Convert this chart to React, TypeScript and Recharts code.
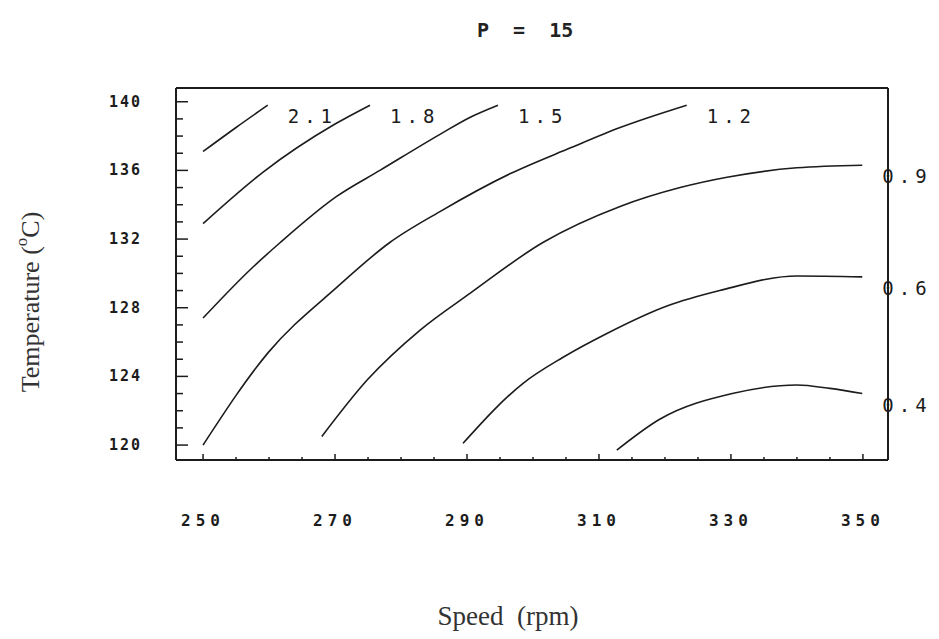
import { LineChart, Line, XAxis, YAxis, Label, LabelList } from 'recharts';

type Pt = { s: number; t: number };

// contour lines, speed (rpm) vs temperature (C)
const c21: Pt[] = [
  { s: 250, t: 137.1 },
  { s: 255, t: 138.5 },
  { s: 259.8, t: 139.8 },
];
const c18: Pt[] = [
  { s: 250, t: 132.9 },
  { s: 259.1, t: 135.9 },
  { s: 270, t: 138.7 },
  { s: 275.3, t: 139.8 },
];
const c15: Pt[] = [
  { s: 250, t: 127.4 },
  { s: 257.1, t: 130.2 },
  { s: 261.7, t: 131.8 },
  { s: 270.3, t: 134.5 },
  { s: 276.8, t: 136.0 },
  { s: 285.9, t: 138.1 },
  { s: 290.5, t: 139.1 },
  { s: 294.7, t: 139.8 },
];
const c12: Pt[] = [
  { s: 250, t: 120.0 },
  { s: 259.9, t: 125.4 },
  { s: 270.3, t: 129.2 },
  { s: 278.3, t: 131.8 },
  { s: 285.9, t: 133.6 },
  { s: 296.5, t: 135.8 },
  { s: 305.6, t: 137.3 },
  { s: 313.2, t: 138.5 },
  { s: 323.3, t: 139.8 },
];
const c09: Pt[] = [
  { s: 268.0, t: 120.5 },
  { s: 274.9, t: 123.8 },
  { s: 282.9, t: 126.7 },
  { s: 290.5, t: 128.85 },
  { s: 301.5, t: 131.8 },
  { s: 313.2, t: 133.9 },
  { s: 322.3, t: 135.0 },
  { s: 329.4, t: 135.6 },
  { s: 340.0, t: 136.15 },
  { s: 349.9, t: 136.3 },
];
const c06: Pt[] = [
  { s: 289.4, t: 120.1 },
  { s: 298.5, t: 123.6 },
  { s: 304.5, t: 125.1 },
  { s: 311.2, t: 126.5 },
  { s: 320.3, t: 128.1 },
  { s: 328.3, t: 129.0 },
  { s: 340.0, t: 129.85 },
  { s: 349.9, t: 129.8 },
];
const c04: Pt[] = [
  { s: 312.7, t: 119.7 },
  { s: 319.2, t: 121.5 },
  { s: 330.2, t: 123.0 },
  { s: 340.0, t: 123.5 },
  { s: 345.0, t: 123.3 },
  { s: 349.9, t: 123.0 },
];

const contours = [c21, c18, c15, c12, c09, c06, c04];
const levels = ['2.1', '1.8', '1.5', '1.2', '0.9', '0.6', '0.4'];

const xTicks = [250, 255, 260, 265, 270, 275, 280, 285, 290, 295, 300, 305, 310, 315, 320, 325, 330, 335, 340, 345, 350];
const xLabels = [250, 270, 290, 310, 330, 350];
const yTicks = [120, 121, 122, 123, 124, 125, 126, 127, 128, 129, 130, 131, 132, 133, 134, 135, 136, 137, 138, 139, 140];
const yLabels = [120, 124, 128, 132, 136, 140];

const INK = '#1c1c1c';
const MONO = '"DejaVu Sans Mono", monospace';
const SERIF = '"Liberation Serif", serif';

const BottomTick = ({ x, y, payload }: any) => {
  const major = xLabels.includes(payload.value);
  return (
    <g>
      <line x1={x} y1={y} x2={x} y2={y - (major ? 6 : 3)} stroke={INK} strokeWidth={1.5} />
      {major && (
        <text x={x} y={y + 60} textAnchor="middle" dominantBaseline="central"
          fontFamily={MONO} fontWeight="bold" fontSize={16} letterSpacing={5} fill={INK}>
          {payload.value}
        </text>
      )}
    </g>
  );
};

const TopTick = ({ x, y, payload }: any) => {
  const major = xLabels.includes(payload.value);
  return <line x1={x} y1={y} x2={x} y2={y + (major ? 5 : 2)} stroke={INK} strokeWidth={1.5} />;
};

const LeftTick = ({ x, y, payload }: any) => {
  const major = yLabels.includes(payload.value);
  return (
    <g>
      <line x1={x} y1={y} x2={x + (major ? 12 : 7)} y2={y} stroke={INK} strokeWidth={1.5} />
      {major && (
        <text x={x - 34} y={y} textAnchor="end" dominantBaseline="central"
          fontFamily={MONO} fontWeight="bold" fontSize={15} letterSpacing={2} fill={INK}>
          {payload.value}
        </text>
      )}
    </g>
  );
};

const RightTick = ({ x, y, payload }: any) => {
  const major = yLabels.includes(payload.value);
  return <line x1={x} y1={y} x2={x - (major ? 12 : 5)} y2={y} stroke={INK} strokeWidth={1.5} />;
};

export default function App() {
  return (
    <div style={{ width: 923, height: 623, background: '#fff' }}>
      <LineChart width={923} height={623} margin={{ top: 0, right: 0, bottom: 0, left: 0 }}>
        <XAxis
          dataKey="s"
          type="number"
          domain={[245.9, 353.8]}
          ticks={xTicks}
          height={171}
          tickSize={0}
          tickMargin={0}
          tick={<BottomTick />}
          axisLine={{ stroke: INK, strokeWidth: 2 }}
          interval={0}
        >
          <Label
            content={({ viewBox }: any) => (
              <text x={viewBox.x + viewBox.width / 2 - 24} y={viewBox.y + 165} textAnchor="middle"
                fontFamily={SERIF} fontSize={27} fill="#333" style={{ whiteSpace: 'pre' }}>
                Speed  (rpm)
              </text>
            )}
          />
        </XAxis>
        <XAxis
          xAxisId="top"
          orientation="top"
          type="number"
          domain={[245.9, 353.8]}
          ticks={xTicks}
          height={80}
          tickSize={0}
          tickMargin={0}
          tick={<TopTick />}
          axisLine={{ stroke: INK, strokeWidth: 2 }}
          interval={0}
        >
          <Label
            content={({ viewBox }: any) => (
              <text x={viewBox.x + 301} y={viewBox.y + 22} dominantBaseline="central"
                fontFamily={MONO} fontWeight="bold" fontSize={20} fill="#222" style={{ whiteSpace: 'pre' }}>
                P  =  15
              </text>
            )}
          />
        </XAxis>
        <YAxis
          type="number"
          domain={[119.13, 140.8]}
          ticks={yTicks}
          width={168}
          tickSize={0}
          tickMargin={0}
          tick={<LeftTick />}
          axisLine={{ stroke: INK, strokeWidth: 2 }}
          interval={0}
        >
          <Label
            content={({ viewBox }: any) => {
              const cx = viewBox.x + 22;
              const cy = viewBox.y + viewBox.height / 2 + 28;
              return (
                <text x={cx} y={cy} transform={`rotate(-90 ${cx} ${cy})`} textAnchor="middle"
                  dominantBaseline="central" fontFamily={SERIF} fontSize={26} fill="#333">
                  Temperature (
                  <tspan fontSize={17} dy={-9}>o</tspan>
                  <tspan dy={9}>C)</tspan>
                </text>
              );
            }}
          />
        </YAxis>
        <YAxis
          yAxisId="right"
          orientation="right"
          type="number"
          domain={[119.13, 140.8]}
          ticks={yTicks}
          width={43}
          tickSize={0}
          tickMargin={0}
          tick={<RightTick />}
          axisLine={{ stroke: INK, strokeWidth: 2 }}
          interval={0}
        />
        {contours.map((c, i) => (
          <Line
            key={levels[i]}
            data={c}
            dataKey="t"
            type="monotone"
            stroke={INK}
            strokeWidth={1.6}
            dot={false}
            isAnimationActive={false}
          >
            <LabelList
              dataKey="t"
              content={(p: any) =>
                p.index === c.length - 1 ? (
                  <text x={p.x + 20} y={p.y + 11} dominantBaseline="central"
                    fontFamily={MONO} fontSize={19} letterSpacing={5} fill={INK}>
                    {levels[i]}
                  </text>
                ) : null
              }
            />
          </Line>
        ))}
      </LineChart>
    </div>
  );
}
